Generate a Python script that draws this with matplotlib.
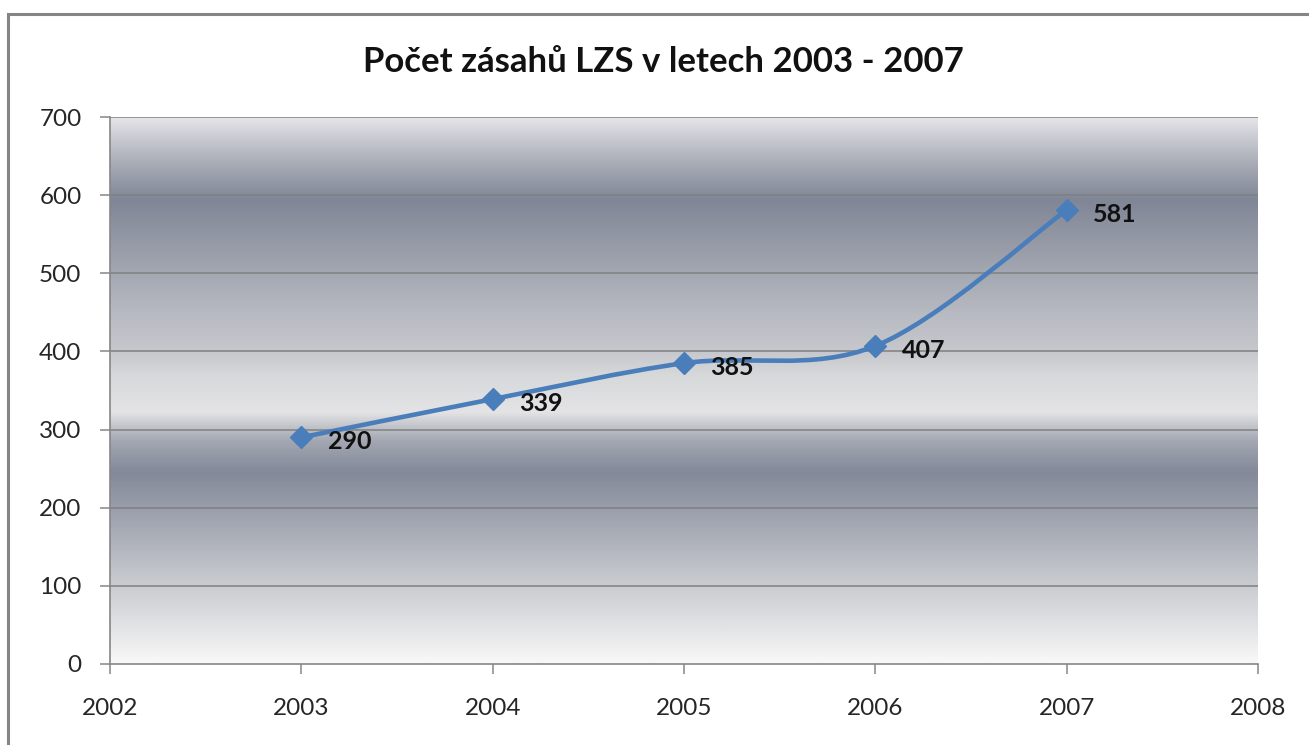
import numpy as np
import matplotlib
matplotlib.use("Agg")
import matplotlib.pyplot as plt
from matplotlib.colors import LinearSegmentedColormap
from matplotlib.path import Path
from matplotlib.patches import PathPatch, Rectangle

plt.rcParams['font.family'] = ['Lato', 'DejaVu Sans']

title = "Počet zásahů LZS v letech 2003 - 2007"
years = [2003, 2004, 2005, 2006, 2007]
values = [290, 339, 385, 407, 581]
x_ticks = [2002, 2003, 2004, 2005, 2006, 2007, 2008]
y_ticks = [0, 100, 200, 300, 400, 500, 600, 700]

W, H = 1309, 745
fig = plt.figure(figsize=(W / 100, H / 100), dpi=100)
fig.patch.set_facecolor('white')

# outer chart border
fig.patches.append(Rectangle((8 / W, -0.1), 1.2, (H - 14) / H + 0.1,
                             transform=fig.transFigure, fill=False,
                             edgecolor='#858585', linewidth=2.2, zorder=0))

left, right, top, bottom = 110, 1258, 117, 664
ax = fig.add_axes([left / W, (H - bottom) / H, (right - left) / W, (bottom - top) / H])
ax.set_xlim(2002, 2008)
ax.set_ylim(0, 700)

# gradient background (Excel-like banded fill)
stops = [
    (0, '#f8f8f8'), (60, '#dcdde0'), (120, '#c0c3c9'), (190, '#9ea2ae'),
    (245, '#838999'), (285, '#a3a7b2'), (305, '#c4c6cc'), (322, '#e4e4e6'),
    (370, '#d6d8da'), (400, '#c6c8cd'), (450, '#b8bac2'), (500, '#a4a8b2'),
    (560, '#8e93a0'), (595, '#7f8696'), (640, '#a6aab4'), (680, '#cfd0d6'),
    (700, '#e4e4e8'),
]
cmap = LinearSegmentedColormap.from_list('bg', [(v / 700, c) for v, c in stops])
grad = np.linspace(0, 1, 700).reshape(-1, 1)
ax.imshow(grad, cmap=cmap, aspect='auto', extent=[2002, 2008, 0, 700],
          origin='lower', zorder=0, interpolation='bilinear')

# gridlines
for yv in y_ticks[1:]:
    ax.axhline(yv, color='#808080', linewidth=1.1, zorder=1)

for s in ['top', 'right']:
    ax.spines[s].set_visible(False)
for s in ['left', 'bottom']:
    ax.spines[s].set_color('#868686')
    ax.spines[s].set_linewidth(1.2)

ax.set_xticks(x_ticks)
ax.set_yticks(y_ticks)
ax.tick_params(axis='both', direction='out', length=7.5, width=1.1, color='#868686',
               labelsize=17.5, labelcolor='#262626')
ax.tick_params(axis='y', pad=13)
ax.tick_params(axis='x', pad=17)

# smoothed line (Catmull-Rom as Bezier, like Excel smoothing)
pts = np.column_stack([years, values]).astype(float)
n = len(pts)
verts = [tuple(pts[0])]
codes = [Path.MOVETO]
for i in range(n - 1):
    p0 = pts[max(i - 1, 0)]
    p1 = pts[i]
    p2 = pts[i + 1]
    p3 = pts[min(i + 2, n - 1)]
    c1 = p1 + (p2 - p0) / 6.0
    c2 = p2 - (p3 - p1) / 6.0
    verts += [tuple(c1), tuple(c2), tuple(p2)]
    codes += [Path.CURVE4] * 3
line_color = '#4a7ebb'
ax.add_patch(PathPatch(Path(verts, codes), facecolor='none', edgecolor=line_color,
                       linewidth=3.3, zorder=3, capstyle='round', joinstyle='round'))
ax.plot(years, values, linestyle='none', marker='D', markersize=11,
        color=line_color, markeredgecolor=line_color, zorder=4, clip_on=False)

for xv, yv in zip(years, values):
    ax.annotate(str(yv), (xv, yv), xytext=(19, -3), textcoords='offset points',
                ha='left', va='center', fontsize=18, fontweight='bold',
                color='#111111', zorder=5)

fig.text(663 / W, 1 - 62 / H, title, ha='center', va='center',
         fontsize=25, fontweight='bold', color='#111111')

fig.savefig('out.png', dpi=100, facecolor='white')
